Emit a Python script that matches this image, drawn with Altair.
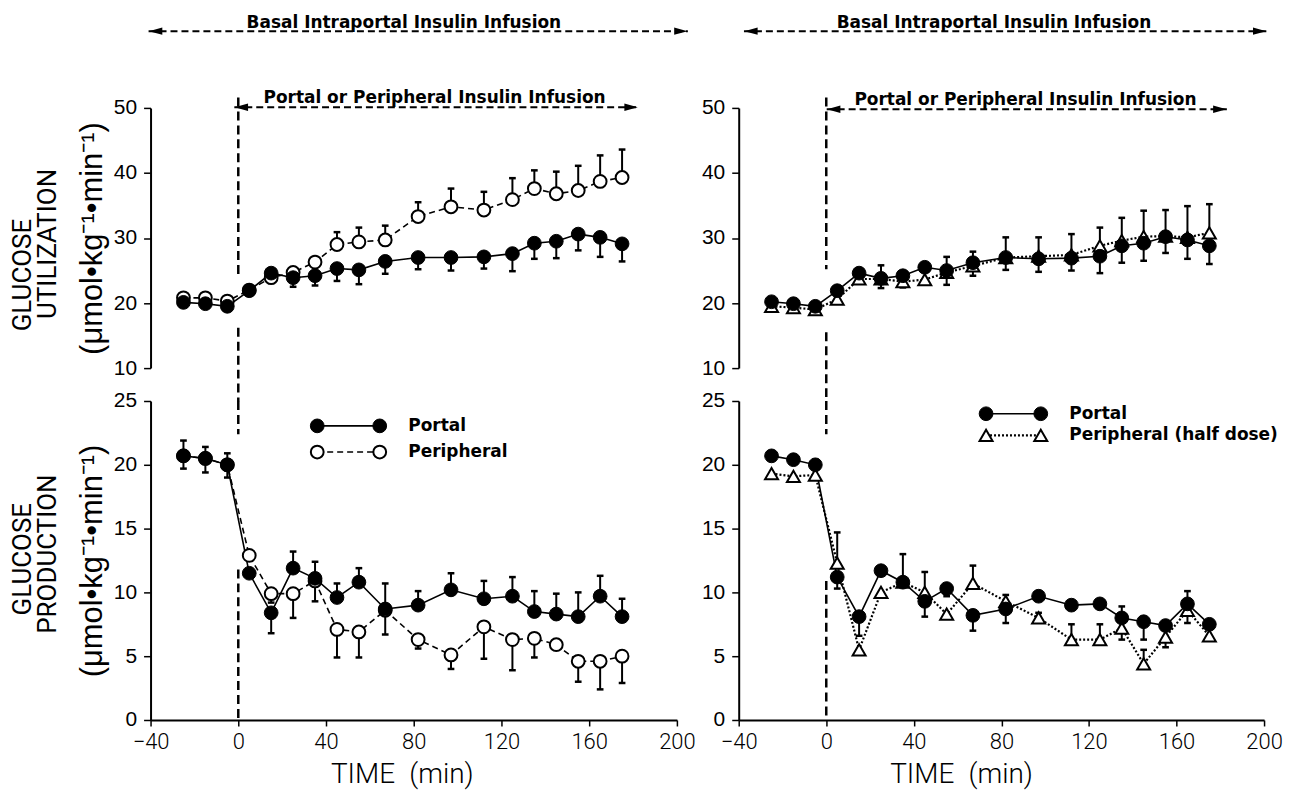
import altair as alt
import pandas as pd

# ---------------- data ----------------
TIME = [-25, -15, -5, 5, 15, 25, 35, 45, 55, 67, 82, 97, 112, 125, 135, 145, 155, 165, 175]

# Left column: portal vs peripheral insulin
UTIL_PORTAL_L    = [20.1, 19.9, 19.5, 21.9, 24.6, 23.9, 24.2, 25.3, 25.1, 26.4, 27.0, 27.0, 27.1, 27.6, 29.2, 29.5, 30.6, 30.1, 29.1]
UTIL_PORTAL_L_UP = [0, 0, 0, 0, 0, 0, 0, 0, 0, 0, 0, 0, 0, 0, 0, 0, 0, 0, 0]
UTIL_PORTAL_L_DN = [0, 0, 0, 0, 1.1, 1.4, 1.5, 1.9, 2.2, 1.9, 1.8, 2.0, 1.8, 2.7, 2.4, 2.6, 2.5, 3.0, 2.7]
UTIL_PERIPH_L    = [20.8, 20.8, 20.3, 22.0, 23.9, 24.7, 26.3, 29.0, 29.4, 29.7, 33.3, 34.8, 34.3, 35.9, 37.6, 36.8, 37.3, 38.7, 39.3]
UTIL_PERIPH_L_UP = [0, 0, 0, 0, 0, 0, 0, 1.9, 2.2, 2.2, 2.2, 2.8, 2.8, 3.3, 2.8, 3.4, 3.8, 4.0, 4.3]
UTIL_PERIPH_L_DN = [0, 0, 0, 0, 0, 0, 0, 0, 0, 0, 0, 0, 0, 0, 0, 0, 0, 0, 0]

PROD_PORTAL_L    = [20.7, 20.5, 20.0, 11.5, 8.4, 11.9, 11.1, 9.6, 10.8, 8.7, 9.0, 10.2, 9.5, 9.7, 8.5, 8.3, 8.1, 9.7, 8.1]
PROD_PORTAL_L_UP = [1.2, 0.9, 0.9, 0, 0, 1.3, 1.3, 1.1, 1.1, 2.0, 1.1, 1.3, 1.4, 1.5, 1.6, 1.6, 1.9, 1.6, 1.4]
PROD_PORTAL_L_DN = [1.0, 1.1, 1.0, 0, 1.6, 0, 0, 0, 0, 2.0, 0, 0, 0, 0, 0, 0, 0, 0, 0]
PROD_PERIPH_L    = [20.7, 20.5, 20.0, 12.9, 9.9, 9.9, 10.9, 7.1, 6.9, 8.6, 6.3, 5.1, 7.3, 6.3, 6.4, 5.9, 4.6, 4.6, 5.0]
PROD_PERIPH_L_UP = [0, 0, 0, 0, 0, 0, 0, 0, 0, 0, 0, 0, 0, 0, 0, 0, 0, 0, 0]
PROD_PERIPH_L_DN = [0, 0, 0, 0, 0.7, 1.9, 1.6, 2.2, 2.0, 0, 0.7, 1.1, 2.5, 2.4, 1.5, 0.4, 1.6, 2.2, 2.1]

# Right column: portal vs peripheral (half dose)
UTIL_PORTAL_R    = [20.2, 19.9, 19.5, 21.9, 24.6, 23.8, 24.2, 25.5, 25.0, 26.2, 27.0, 26.8, 26.9, 27.2, 28.8, 29.2, 30.2, 29.7, 28.8]
UTIL_PORTAL_R_UP = [0, 0, 0, 0, 0, 0, 0, 0, 0, 0, 0, 0, 0, 0, 0, 0, 0, 0, 0]
UTIL_PORTAL_R_DN = [0, 0, 0, 0, 0, 1.5, 1.8, 0, 2.2, 2.0, 1.9, 2.0, 1.9, 2.6, 2.6, 2.7, 2.5, 2.9, 2.8]
UTIL_HALF_R      = [19.5, 19.3, 19.0, 20.6, 23.7, 23.7, 23.3, 23.6, 24.7, 25.7, 27.0, 27.2, 27.4, 28.8, 29.6, 30.2, 30.3, 30.1, 30.8]
UTIL_HALF_R_UP   = [0, 0, 0, 0, 0, 2.1, 0, 0, 2.4, 2.2, 3.1, 2.9, 3.2, 2.8, 3.5, 4.0, 4.0, 4.8, 4.4]
UTIL_HALF_R_DN   = [0, 0, 0, 0, 0, 0, 0, 0, 0, 0, 0, 0, 0, 0, 0, 0, 0, 0, 0]

PROD_PORTAL_R    = [20.7, 20.4, 20.0, 11.2, 8.1, 11.7, 10.8, 9.3, 10.3, 8.2, 8.7, 9.7, 9.0, 9.1, 8.0, 7.7, 7.4, 9.1, 7.5]
PROD_PORTAL_R_UP = [0, 0, 0.4, 0, 0, 0, 0, 0, 0, 0, 1.1, 0, 0, 0, 0.9, 0, 0, 1.0, 0]
PROD_PORTAL_R_DN = [0, 0, 0, 0.9, 1.5, 0, 0, 1.2, 0.6, 1.2, 1.1, 0, 0, 0, 0, 1.4, 0, 0, 0]
PROD_HALF_R      = [19.3, 19.1, 19.2, 12.3, 5.5, 10.0, 10.8, 10.0, 8.3, 10.7, 9.3, 8.0, 6.3, 6.3, 7.2, 4.4, 6.5, 8.6, 6.6]
PROD_HALF_R_UP   = [0, 0, 0, 2.4, 0, 0, 2.2, 1.6, 0, 1.4, 0, 0.4, 1.2, 1.2, 0, 1.1, 0, 0, 0]
PROD_HALF_R_DN   = [0, 0, 0, 0, 0, 0, 0, 0, 0, 0, 0, 0, 0, 0, 0.9, 0, 0.8, 1.0, 0]

X_TICKS = [-40, 0, 40, 80, 120, 160, 200]
UTIL_TICKS = [10, 20, 30, 40, 50]
PROD_TICKS = [0, 5, 10, 15, 20, 25]

UNITS = "(\u03bcmol\u2022kg\u207b\u00b9\u2022min\u207b\u00b9)"
BASAL_TEXT = "Basal Intraportal Insulin Infusion"
PORTAL_TEXT = "Portal or Peripheral Insulin Infusion"

# ---------------- styling ----------------
SANS = "Liberation Sans, Arial, Helvetica, sans-serif"
LIGHT = "Roboto, Liberation Sans, sans-serif"
BOLD = "DejaVu Sans, Liberation Sans, sans-serif"


def series_frames(values, up, dn):
    pts = pd.DataFrame({"t": TIME, "v": values})
    rules, caps = [], []
    for t, v, u, d in zip(TIME, values, up, dn):
        if u > 0:
            rules.append({"t": t, "v": v, "v2": v + u})
            caps.append({"t": t, "v": v + u})
        if d > 0:
            rules.append({"t": t, "v": v - d, "v2": v})
            caps.append({"t": t, "v": v - d})
    return (pts, pd.DataFrame(rules, columns=["t", "v", "v2"]),
            pd.DataFrame(caps, columns=["t", "v"]))


def y_axis(values, title):
    kw = dict(values=values, tickSize=7, tickWidth=1.5, tickColor="black",
              domainColor="black", domainWidth=2, labelFont=SANS, labelFontSize=21,
              labelColor="black", labelPadding=7, grid=False, format="d",
              labelFlush=False, labelOverlap=False)
    if title:
        kw.update(title=title, titleFont=SANS, titleFontSize=31,
                  titleFontWeight="normal", titleColor="black", titlePadding=5)
    else:
        kw.update(title="")
    return alt.Axis(**kw)


def x_axis(title_x):
    return alt.Axis(values=X_TICKS, tickSize=6, tickWidth=1.5, tickColor="black",
                    domainColor="black", domainWidth=2, labelFont=LIGHT,
                    labelFontSize=22, labelFontWeight=300, labelColor="black",
                    labelPadding=6, labelFlush=False, labelOverlap=False, grid=False,
                    format="d", title="TIME\u2002(min)", titleFont=LIGHT,
                    titleFontSize=28, titleFontWeight=300, titleColor="black",
                    titleX=title_x, titleY=63, titleBaseline="alphabetic")


def line_mark(style):
    if style == "portal":
        return dict(color="black", strokeWidth=1.6)
    if style == "periph":
        return dict(color="black", strokeWidth=1.6, strokeDash=[6, 4])
    return dict(color="black", strokeWidth=2.2, strokeDash=[2, 2])


def point_mark(style):
    if style == "portal":
        return dict(shape="circle", filled=True, fill="black", stroke="black",
                    strokeWidth=1, size=190, opacity=1)
    if style == "periph":
        return dict(shape="circle", filled=True, fill="white", stroke="black",
                    strokeWidth=2, size=165, opacity=1)
    return dict(shape="triangle-up", filled=True, fill="white", stroke="black",
                strokeWidth=2, size=170, opacity=1)


LEFT_HEAD = "M-1,0L1,-0.55L1,0.55Z"
RIGHT_HEAD = "M1,0L-1,-0.55L-1,0.55Z"
CAP = "M-1,0L1,0"


def panel(series, ydomain, yticks, ytitle, xaxis, width, height,
          vsegs, arrows, texts, legend, side):
    X = alt.X("t:Q", scale=alt.Scale(domain=[-40, 200], nice=False, zero=False), axis=xaxis)
    Y = alt.Y("v:Q", scale=alt.Scale(domain=ydomain, nice=False, zero=False),
              axis=y_axis(yticks, ytitle))
    layers = []
    layers.append(alt.Chart(pd.DataFrame(vsegs)).mark_rule(
        color="black", strokeWidth=2.5, strokeDash=[9, 5]).encode(x=X, y=Y, y2="v2:Q"))

    frames = [(series_frames(v, u, d), st) for v, u, d, st in series]
    for (pts, rules, caps), st in frames:
        layers.append(alt.Chart(pts).mark_line(**line_mark(st)).encode(x=X, y=Y))
    for (pts, rules, caps), st in frames:
        if len(rules):
            layers.append(alt.Chart(rules).mark_rule(color="black", strokeWidth=2).encode(
                x=X, y=Y, y2="v2:Q"))
            layers.append(alt.Chart(caps).mark_point(
                shape=CAP, size=45, filled=False, stroke="black", strokeWidth=2.5,
                opacity=1).encode(x=X, y=Y))
    for (pts, rules, caps), st in frames:
        layers.append(alt.Chart(pts).mark_point(**point_mark(st)).encode(x=X, y=Y))

    if arrows:
        adf = pd.DataFrame(arrows)
        layers.append(alt.Chart(adf).mark_rule(color="black", strokeWidth=2,
                                               strokeDash=[7, 4]).encode(x=X, x2="t2:Q", y=Y))
        hl = pd.DataFrame({"t": [a["hl"] for a in arrows], "v": [a["v"] for a in arrows]})
        hr = pd.DataFrame({"t": [a["hr"] for a in arrows], "v": [a["v"] for a in arrows]})
        layers.append(alt.Chart(hl).mark_point(shape=LEFT_HEAD, size=180, filled=True,
                                               color="black", opacity=1).encode(x=X, y=Y))
        layers.append(alt.Chart(hr).mark_point(shape=RIGHT_HEAD, size=180, filled=True,
                                               color="black", opacity=1).encode(x=X, y=Y))
    if texts:
        layers.append(alt.Chart(pd.DataFrame(texts)).mark_text(
            font=BOLD, fontSize=17, fontWeight="bold", color="black", align="center",
            baseline="alphabetic").encode(x=X, y=Y, text="label:N"))

    for item in legend:
        seg = pd.DataFrame({"t": [item["ta"], item["tb"]], "v": [item["v"], item["v"]]})
        layers.append(alt.Chart(seg).mark_line(**line_mark(item["style"])).encode(x=X, y=Y))
        layers.append(alt.Chart(seg).mark_point(**point_mark(item["style"])).encode(x=X, y=Y))
        lab = pd.DataFrame({"t": [item["tt"]], "v": [item["v"]], "label": [item["label"]]})
        layers.append(alt.Chart(lab).mark_text(
            font=BOLD, fontSize=17, fontWeight="bold", color="black", align="left",
            baseline="middle").encode(x=X, y=Y, text="label:N"))

    if side:
        layers.append(alt.Chart(pd.DataFrame(side)).mark_text(
            font=LIGHT, fontSize=26, fontWeight="normal", color="black", angle=270,
            align="center", baseline="middle").encode(x=X, y=Y, text="label:N"))

    return alt.layer(*layers).properties(width=width, height=height)


TL = panel(
    [(UTIL_PERIPH_L, UTIL_PERIPH_L_UP, UTIL_PERIPH_L_DN, "periph"),
     (UTIL_PORTAL_L, UTIL_PORTAL_L_UP, UTIL_PORTAL_L_DN, "portal")],
    [10, 50], UTIL_TICKS, UNITS, None, 528, 261,
    [{"t": 0, "v": 51.6, "v2": 23.9}, {"t": 0, "v": 16.2, "v2": 4.9}],
    [{"t": -40.9, "t2": 205.0, "v": 61.8, "hl": -37.7, "hr": 201.8},
     {"t": -1.8, "t2": 182.3, "v": 50.1, "hl": 1.4, "hr": 179.1}],
    [{"t": 75.5, "v": 62.25, "label": BASAL_TEXT},
     {"t": 89.5, "v": 50.75, "label": PORTAL_TEXT}],
    [],
    [{"t": -98.0, "v": 24.3, "label": "GLUCOSE"},
     {"t": -86.8, "v": 29.1, "label": "UTILIZATION"}],
)

TR = panel(
    [(UTIL_HALF_R, UTIL_HALF_R_UP, UTIL_HALF_R_DN, "half"),
     (UTIL_PORTAL_R, UTIL_PORTAL_R_UP, UTIL_PORTAL_R_DN, "portal")],
    [10, 50], UTIL_TICKS, None, None, 527, 261,
    [{"t": 0, "v": 51.6, "v2": 25.2}, {"t": 0, "v": 15.5, "v2": 4.9}],
    [{"t": -37.6, "t2": 201.2, "v": 61.8, "hl": -34.4, "hr": 198.0},
     {"t": 0.2, "t2": 183.0, "v": 49.8, "hl": 3.4, "hr": 179.8}],
    [{"t": 76.6, "v": 62.25, "label": BASAL_TEXT},
     {"t": 91.0, "v": 50.45, "label": PORTAL_TEXT}],
    [],
    [],
)

BL = panel(
    [(PROD_PERIPH_L, PROD_PERIPH_L_UP, PROD_PERIPH_L_DN, "periph"),
     (PROD_PORTAL_L, PROD_PORTAL_L_UP, PROD_PORTAL_L_DN, "portal")],
    [0, 25], PROD_TICKS, UNITS, x_axis(252), 528, 320,
    [{"t": 0, "v": 25.0, "v2": 22.4}, {"t": 0, "v": 11.8, "v2": 0.0}],
    [], [],
    [{"style": "portal", "ta": 36, "tb": 64.5, "tt": 77.5, "v": 23.05, "label": "Portal"},
     {"style": "periph", "ta": 36, "tb": 64.5, "tt": 77.5, "v": 21.0, "label": "Peripheral"}],
    [{"t": -98.0, "v": 12.6, "label": "GLUCOSE"},
     {"t": -86.8, "v": 13.0, "label": "PRODUCTION"}],
)

BR = panel(
    [(PROD_HALF_R, PROD_HALF_R_UP, PROD_HALF_R_DN, "half"),
     (PROD_PORTAL_R, PROD_PORTAL_R_UP, PROD_PORTAL_R_DN, "portal")],
    [0, 25], PROD_TICKS, None, x_axis(223), 527, 320,
    [{"t": 0, "v": 25.0, "v2": 22.4}, {"t": 0, "v": 10.9, "v2": 0.0}],
    [], [],
    [{"style": "portal", "ta": 73, "tb": 98, "tt": 111, "v": 24.0, "label": "Portal"},
     {"style": "half", "ta": 73, "tb": 98, "tt": 111, "v": 22.3, "label": "Peripheral (half dose)"}],
    [],
)

chart = alt.concat(TL, TR, BL, BR, columns=2, spacing={"row": 33, "column": 62},
                   bounds="flush").configure_view(stroke=None).properties(
    background="white", padding={"left": 2, "top": 5, "right": 0, "bottom": 0})

chart.save("out.html", embed_options={"renderer": "svg", "actions": False})
